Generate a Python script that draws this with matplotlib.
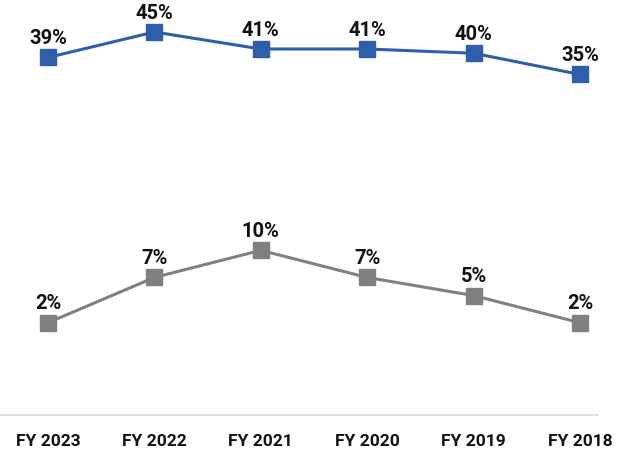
import matplotlib
matplotlib.use("Agg")
import matplotlib.pyplot as plt

years = ["FY 2023", "FY 2022", "FY 2021", "FY 2020", "FY 2019", "FY 2018"]
top_series = [39, 45, 41, 41, 40, 35]
bottom_series = [2, 7, 10, 7, 5, 2]

blue = "#2F5FAC"
grey = "#808080"

plt.rcParams["font.family"] = ["Roboto", "DejaVu Sans"]

fig = plt.figure(figsize=(6.17, 4.56), dpi=100)
ax = fig.add_axes([0, 0.0877, 1, 0.9123])
ax2 = ax.twinx()

x = list(range(len(years)))

ax.plot(x, bottom_series, color=grey, lw=2.2, marker="s", ms=11, zorder=3)
ax2.plot(x, top_series, color=blue, lw=2.2, marker="s", ms=11, zorder=3)

for xi, v in zip(x, bottom_series):
    ax.annotate(f"{v}%", (xi, v), xytext=(0, 7.5), textcoords="offset points",
                ha="center", va="bottom", fontsize=14.5, fontweight="bold", color="#111111")
for xi, v in zip(x, top_series):
    ax2.annotate(f"{v}%", (xi, v), xytext=(0, 7.5), textcoords="offset points",
                 ha="center", va="bottom", fontsize=14.5, fontweight="bold", color="#111111")

ax.set_xlim(-0.451, 5.348)
ax.set_ylim(-8.2, 37.77)
ax2.set_ylim(-45.12, 52.76)

ax.set_xticks(x)
ax.set_xticklabels(years, fontsize=12.5, fontweight="bold", color="#111111")
ax.tick_params(axis="x", length=0, pad=13)
ax.set_yticks([])
ax2.set_yticks([])

for a in (ax, ax2):
    for s in a.spines.values():
        s.set_visible(False)
ax.axhline(-8.2, xmin=0, xmax=0.969, color="#D9D9D9", lw=1.2, clip_on=False)

fig.savefig("out.png", dpi=100)
